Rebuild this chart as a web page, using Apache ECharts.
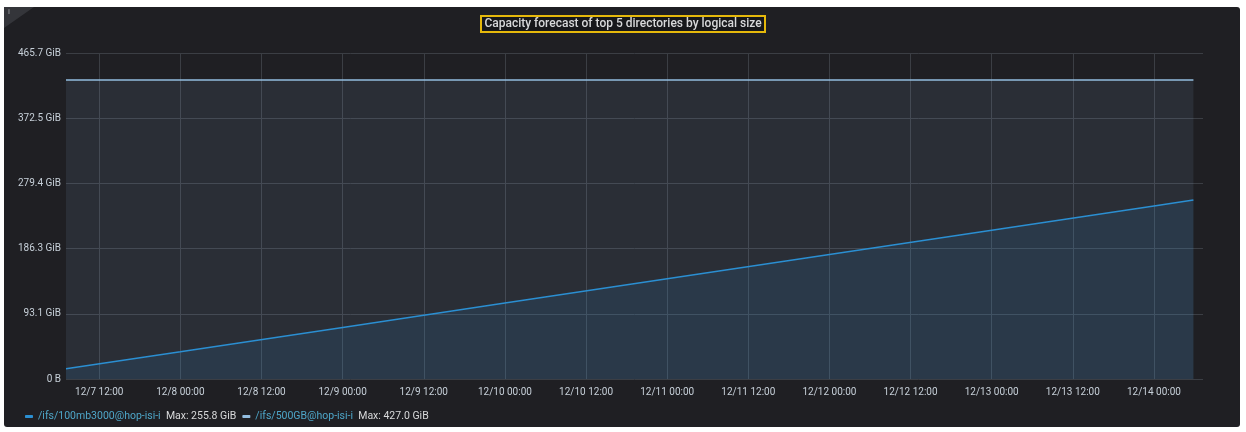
<!DOCTYPE html>
<html>
<head>
<meta charset="utf-8">
<script src="https://cdn.jsdelivr.net/npm/echarts@6/dist/echarts.min.js"></script>
<style>
  html, body { margin: 0; padding: 0; background: #ffffff; }
  #panel { position: absolute; left: 4px; top: 7px; width: 1236px; height: 420px; background: #1f1f23; border-radius: 3px; }
  #chart { position: absolute; left: 0; top: 0; width: 1246px; height: 432px; }
</style>
</head>
<body>
<div id="panel"></div>
<div id="chart"></div>
<script>
// ---- data (values in GiB) ----
var seriesNames = ['/ifs/100mb3000@hop-isi-i', '/ifs/500GB@hop-isi-i'];
var legendMax = ['Max: 255.8 GiB', 'Max: 427.0 GiB'];
var timePoints = [
  '2020-12-07T07:05', '2020-12-08T00:00', '2020-12-09T00:00', '2020-12-10T00:00',
  '2020-12-11T00:00', '2020-12-12T00:00', '2020-12-13T00:00', '2020-12-14T00:00',
  '2020-12-14T05:50'
];
var dir100mbValues = [14.7, 39.0, 73.7, 108.4, 143.1, 177.8, 212.5, 247.2, 255.8];
var dir500gbValues = [427.0, 427.0, 427.0, 427.0, 427.0, 427.0, 427.0, 427.0, 427.0];
var xTickTimes = [
  '2020-12-07T12:00', '2020-12-08T00:00', '2020-12-08T12:00', '2020-12-09T00:00',
  '2020-12-09T12:00', '2020-12-10T00:00', '2020-12-10T12:00', '2020-12-11T00:00',
  '2020-12-11T12:00', '2020-12-12T00:00', '2020-12-12T12:00', '2020-12-13T00:00',
  '2020-12-13T12:00', '2020-12-14T00:00'
];
var yTickLabels = ['0 B', '93.1 GiB', '186.3 GiB', '279.4 GiB', '372.5 GiB', '465.7 GiB'];
var xMin = '2020-12-07T07:05';
var xMax = '2020-12-14T07:15';
var yMaxGiB = 5e11 / Math.pow(2, 30);
var yStepGiB = 1e11 / Math.pow(2, 30);

function toMs(s) {
  var p = s.split(/[-T:]/).map(Number);
  return Date.UTC(p[0], p[1] - 1, p[2], p[3], p[4]);
}
function pairs(vals) {
  return timePoints.map(function (t, i) { return [toMs(t), vals[i]]; });
}
function pad(n) { return (n < 10 ? '0' : '') + n; }
var xTickMs = xTickTimes.map(toMs);

var chart = echarts.init(document.getElementById('chart'), null, { renderer: 'canvas' });
var colors = ['#2b8fd2', '#93bde0'];
var option = {
  backgroundColor: 'transparent',
  animation: false,
  textStyle: { fontFamily: 'Roboto' },
  title: {
    text: 'Capacity forecast of top 5 directories by logical size',
    left: 'center',
    top: 16,
    padding: [2, 4, 2, 4],
    borderColor: '#e5b80b',
    borderWidth: 2,
    backgroundColor: '#17181b',
    textStyle: { color: '#d8d9da', fontSize: 12, fontWeight: 500, fontFamily: 'Roboto' }
  },
  legend: {
    left: 20,
    top: 406,
    icon: 'roundRect',
    itemWidth: 8,
    itemHeight: 3,
    itemGap: 6,
    data: seriesNames,
    formatter: function (name) {
      var i = seriesNames.indexOf(name);
      return '{n|' + name + '}  {m|' + legendMax[i] + '}';
    },
    textStyle: {
      fontSize: 10.5,
      fontFamily: 'Roboto',
      rich: {
        n: { color: '#4ea6c8', fontSize: 10.5, fontFamily: 'Roboto' },
        m: { color: '#d8d9da', fontSize: 10.5, fontFamily: 'Roboto' }
      }
    }
  },
  grid: { left: 66, right: 43, top: 53, bottom: 53 },
  xAxis: {
    type: 'value',
    min: toMs(xMin),
    max: toMs(xMax),
    axisLine: { show: false },
    axisTick: { show: false, customValues: xTickMs },
    splitLine: { show: true, lineStyle: { color: '#3b3e44', width: 1 } },
    axisLabel: {
      customValues: xTickMs,
      color: '#c7d0d9',
      fontSize: 10,
      margin: 8,
      hideOverlap: false,
      formatter: function (v) {
        var d = new Date(v);
        return (d.getUTCMonth() + 1) + '/' + d.getUTCDate() + ' ' + pad(d.getUTCHours()) + ':' + pad(d.getUTCMinutes());
      }
    }
  },
  yAxis: {
    type: 'value',
    min: 0,
    max: yMaxGiB,
    interval: yStepGiB,
    axisLine: { show: false },
    axisTick: { show: false },
    splitLine: { show: true, lineStyle: { color: '#3b3e44', width: 1 } },
    axisLabel: {
      color: '#c7d0d9',
      fontSize: 10,
      margin: 5,
      formatter: function (v) { return yTickLabels[Math.round(v / yStepGiB)]; }
    }
  },
  series: [
    {
      name: seriesNames[0],
      type: 'line',
      data: pairs(dir100mbValues),
      showSymbol: false,
      color: colors[0],
      lineStyle: { width: 1.5, color: colors[0] },
      areaStyle: { color: colors[0], opacity: 0.12 },
      z: 3
    },
    {
      name: seriesNames[1],
      type: 'line',
      data: pairs(dir500gbValues),
      showSymbol: false,
      color: colors[1],
      lineStyle: { width: 1.5, color: colors[1] },
      areaStyle: { color: colors[1], opacity: 0.1 },
      z: 2
    }
  ],
  graphic: [
    {
      type: 'polygon',
      shape: { points: [[4, 7], [34, 7], [4, 28]] },
      style: { fill: '#34353a' }
    },
    {
      type: 'text',
      left: 8, top: 8,
      style: { text: 'i', fill: '#9fa1a6', fontSize: 8, fontFamily: 'Roboto' }
    }
  ]
};
chart.setOption(option);
</script>
</body>
</html>
